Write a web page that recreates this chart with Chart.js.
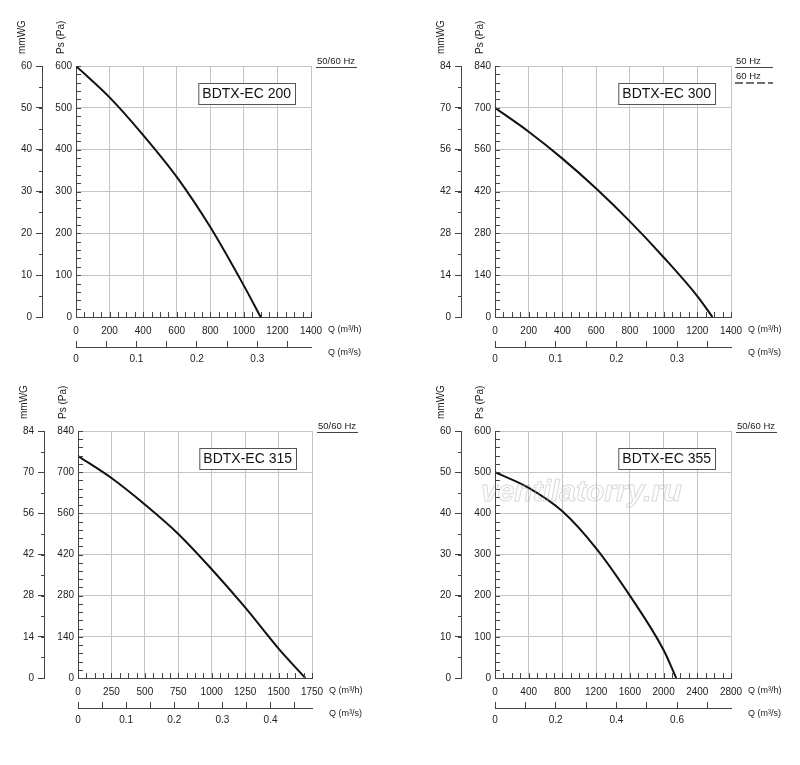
<!DOCTYPE html>
<html><head><meta charset="utf-8">
<script src="https://cdn.jsdelivr.net/npm/chart.js@4"></script>
<style>
body{margin:0;background:#fff;width:800px;height:765px;position:relative;overflow:hidden}
canvas{position:absolute;left:0;top:0}
</style></head><body>
<canvas id="c1" width="800" height="765"></canvas>
<canvas id="c2" width="800" height="765"></canvas>
<canvas id="c3" width="800" height="765"></canvas>
<canvas id="c4" width="800" height="765"></canvas>
<script>
// curve data: Q (m3/h) vs Ps (Pa)
const q200 = [0, 200, 400, 600, 800, 1000, 1100];
const ps200 = [600, 525, 435, 335, 215, 75, 0];
const q300 = [0, 200, 400, 600, 800, 1000, 1200, 1290];
const ps300 = [700, 620, 530, 430, 320, 200, 70, 0];
const q315 = [0, 250, 500, 750, 1000, 1250, 1500, 1700];
const ps315 = [755, 680, 590, 490, 370, 240, 100, 0];
const q355 = [0, 400, 800, 1200, 1600, 2000, 2150];
const ps355 = [500, 462, 405, 315, 200, 68, 0];

const FONT = '"Liberation Sans", Arial, sans-serif';
const GRID = '#c4c4c4', AX = '#444';

function panel(id, o) {
  const ctx = document.getElementById(id).getContext('2d');
  const labelFilter = (v) => Math.round(v * 100) % o.m3sLabel === 0;
  const annot = {
    id: 'annot',
    afterDraw(ch) {
      const c = ch.ctx, a = ch.chartArea;
      const ys = ch.scales.y, xs = ch.scales.x, y2 = ch.scales.y2;
      c.save();
      c.strokeStyle = AX; c.lineWidth = 1;
      // minor ticks on Pa axis and Q axis
      for (let v = 0; v <= o.paMax; v += o.paMax / 30) {
        const p = Math.round(ys.getPixelForValue(v)) + 0.5;
        c.beginPath(); c.moveTo(a.left, p); c.lineTo(a.left + 5, p); c.stroke();
      }
      for (let v = 0; v <= o.qMax; v += o.qMinor) {
        const p = Math.round(xs.getPixelForValue(v)) + 0.5;
        c.beginPath(); c.moveTo(p, a.bottom); c.lineTo(p, a.bottom - 5); c.stroke();
      }
      // minor ticks on mmWG axis
      for (let v = 0; v <= o.mmMax; v += o.mmMax / 12) {
        const p = Math.round(y2.getPixelForValue(v)) + 0.5;
        c.beginPath(); c.moveTo(y2.right, p); c.lineTo(y2.right - 3, p); c.stroke();
      }
      c.fillStyle = '#222';
      c.font = '10px ' + FONT;
      // rotated axis titles
      [['mmWG', y2.right - 20], ['Ps (Pa)', a.left - 15]].forEach(([t, x]) => {
        c.save(); c.translate(x, a.top - 12); c.rotate(-Math.PI / 2);
        c.textAlign = 'left'; c.textBaseline = 'middle'; c.fillText(t, 0, 0); c.restore();
      });
      c.textBaseline = 'middle'; c.textAlign = 'left';
      c.font = '9px ' + FONT;
      c.fillText('Q (m³/h)', a.right + 17, a.bottom + 13);
      c.fillText('Q (m³/s)', a.right + 17, a.bottom + 36);
      // frequency legend
      c.font = '9.5px ' + FONT;
      if (o.dual) {
        c.fillText('50 Hz', a.right + 5, a.top - 5);
        c.beginPath(); c.moveTo(a.right + 4, a.top + 1.5); c.lineTo(a.right + 42, a.top + 1.5); c.stroke();
        c.fillText('60 Hz', a.right + 5, a.top + 10);
        c.setLineDash([8, 3]); c.lineWidth = 1.5;
        c.beginPath(); c.moveTo(a.right + 4, a.top + 17); c.lineTo(a.right + 42, a.top + 17); c.stroke();
        c.setLineDash([]); c.lineWidth = 1;
      } else {
        c.fillText('50/60 Hz', a.right + 6, a.top - 5);
        c.beginPath(); c.moveTo(a.right + 5, a.top + 1.5); c.lineTo(a.right + 46, a.top + 1.5); c.stroke();
      }
      // model box
      c.font = '14px ' + FONT;
      const w = c.measureText(o.name).width + 8;
      const bx = a.right - 16 - w, by = a.top + 17;
      c.fillStyle = '#fff'; c.fillRect(bx, by, w, 21);
      c.strokeStyle = '#555'; c.strokeRect(bx + 0.5, by + 0.5, w, 21);
      c.fillStyle = '#111'; c.textAlign = 'left'; c.fillText(o.name, bx + 4, by + 11.5);
      if (o.watermark) {
        c.font = 'italic bold 30px ' + FONT;
        c.strokeStyle = 'rgba(170,170,170,0.45)'; c.lineWidth = 1;
        c.strokeText('ventilatorry.ru', a.left - 14, a.top + 62);
      }
      c.restore();
    }
  };
  new Chart(ctx, {
    type: 'line',
    data: { datasets: [{ data: o.q.map((x, i) => ({ x, y: o.ps[i] })), borderColor: '#111', borderWidth: 2, pointRadius: 0, cubicInterpolationMode: 'monotone' }] },
    options: {
      responsive: false, animation: false, locale: 'en-US',
      layout: { padding: { left: o.L - 76, top: o.T, right: 800 - o.R, bottom: 765 - o.B - 62 } },
      plugins: { legend: { display: false }, tooltip: { enabled: false } },
      scales: {
        x: {
          type: 'linear', min: 0, max: o.qMax, weight: 0,
          afterFit: s => { s.height = 30; },
          border: { color: AX },
          grid: { color: GRID, tickLength: 0 },
          ticks: { stepSize: o.qStep, color: '#222', padding: 8, maxRotation: 0, font: { size: 10, family: FONT }, callback: v => String(v) }
        },
        x2: {
          type: 'linear', position: 'bottom', min: 0, max: o.qMax / 3600, weight: 1,
          afterFit: s => { s.height = 32; },
          border: { color: AX },
          grid: { drawOnChartArea: false, tickLength: -6, color: AX },
          ticks: {
            stepSize: o.m3sStep, includeBounds: false, color: '#222', padding: 12, maxRotation: 0, autoSkip: false,
            font: { size: 10, family: FONT },
            callback: v => labelFilter(v) ? (Math.round(v * 10) / 10).toString() : ''
          }
        },
        y: {
          type: 'linear', min: 0, max: o.paMax, weight: 0,
          afterFit: s => { s.width = 34; },
          border: { color: AX },
          grid: { color: GRID, tickLength: 0 },
          ticks: { stepSize: o.paMax / 6, color: '#222', padding: 4, font: { size: 10, family: FONT } }
        },
        y2: {
          type: 'linear', position: 'left', min: 0, max: o.mmMax, weight: 1,
          afterFit: s => { s.width = 42; },
          border: { color: AX },
          grid: { drawOnChartArea: false, tickLength: 6, color: AX },
          ticks: { stepSize: o.mmMax / 6, color: '#222', padding: 4, font: { size: 10, family: FONT } }
        }
      }
    },
    plugins: [annot]
  });
}

panel('c1', { name: 'BDTX-EC 200', q: q200, ps: ps200, L: 76, R: 311, T: 66, B: 317, qMax: 1400, qStep: 200, qMinor: 50, paMax: 600, mmMax: 60, m3sStep: 0.05, m3sLabel: 10 });
panel('c2', { name: 'BDTX-EC 300', q: q300, ps: ps300, L: 495, R: 731, T: 66, B: 317, qMax: 1400, qStep: 200, qMinor: 50, paMax: 840, mmMax: 84, m3sStep: 0.05, m3sLabel: 10, dual: true });
panel('c3', { name: 'BDTX-EC 315', q: q315, ps: ps315, L: 78, R: 312, T: 431, B: 678, qMax: 1750, qStep: 250, qMinor: 62.5, paMax: 840, mmMax: 84, m3sStep: 0.05, m3sLabel: 10 });
panel('c4', { name: 'BDTX-EC 355', q: q355, ps: ps355, L: 495, R: 731, T: 431, B: 678, qMax: 2800, qStep: 400, qMinor: 100, paMax: 600, mmMax: 60, m3sStep: 0.1, m3sLabel: 20, watermark: true });
</script></body></html>
